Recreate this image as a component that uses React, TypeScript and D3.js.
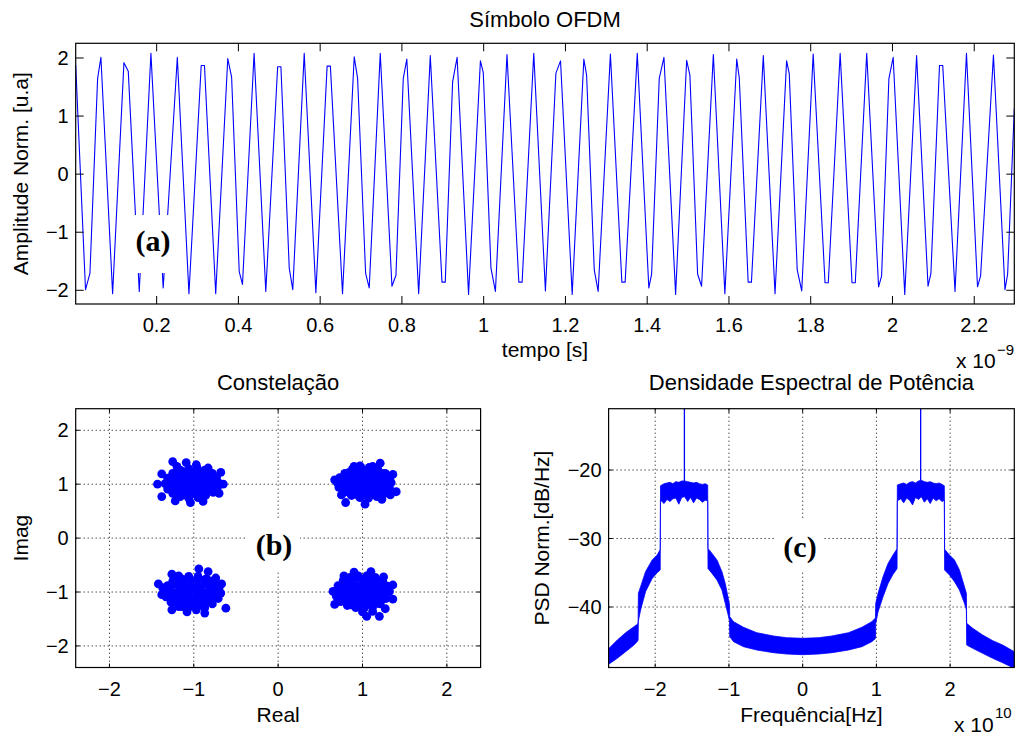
import React, { useEffect, useRef } from 'react';
import * as d3 from 'd3';

// ---- (a) OFDM symbol: [time (ns), normalized amplitude] at the turning points and shoulders
const symbolSamples: [number, number][] = [
  [0.002, 1.88], [0.026, -1.99], [0.0368, -1.71], [0.0556, 1.65], [0.0637, 2.01], [0.0923, -2.06],
  [0.12, 1.92], [0.1306, 1.77], [0.1575, -2.02], [0.186, 2.08], [0.216, -1.96], [0.2506, 2.01],
  [0.279, -2.06], [0.309, 1.87], [0.317, 1.87], [0.3445, -2.06], [0.374, 1.99], [0.3834, 1.67],
  [0.402, -1.68], [0.41, -1.9], [0.4384, 2.08], [0.467, -2.02], [0.496, 1.85], [0.504, 1.85],
  [0.5244, -1.62], [0.533, -1.99], [0.561, 2.08], [0.5895, -2.04], [0.617, 1.86], [0.625, 1.86],
  [0.6547, -2.06], [0.6833, 2.02], [0.6916, 1.65], [0.7112, -1.71], [0.72, -1.96], [0.747, 2.08],
  [0.7756, -1.93], [0.7854, -1.74], [0.8033, 1.65], [0.812, 1.98], [0.841, -2.06], [0.8694, 2.04],
  [0.898, -1.86], [0.906, -1.86], [0.924, 1.59], [0.935, 2.01], [0.963, -2.07], [0.992, 1.95],
  [0.999, 1.75], [1.0178, -1.62], [1.0287, -2.02], [1.057, 2.06], [1.086, -1.86], [1.094, -1.86],
  [1.1225, 2.08], [1.151, -2.01], [1.1767, 1.74], [1.188, 1.95], [1.2165, -2.07], [1.245, 1.98],
  [1.2518, 1.7], [1.2705, -1.65], [1.28, -2.02], [1.31, 2.07], [1.338, -1.86], [1.346, -1.86],
  [1.3757, 2.08], [1.404, -1.96], [1.4108, -1.72], [1.4295, 1.65], [1.441, 2.01], [1.4695, -2.07],
  [1.4965, 1.96], [1.5045, 1.7], [1.5233, -1.72], [1.533, -1.93], [1.5618, 2.06], [1.59, -2.06],
  [1.619, 1.98], [1.6252, 1.66], [1.647, -1.86], [1.655, -1.86], [1.684, 2.04], [1.7127, -2.06],
  [1.741, 1.95], [1.7475, 1.73], [1.767, -1.65], [1.778, -2.01], [1.806, 2.07], [1.835, -1.87],
  [1.843, -1.87], [1.872, 2.08], [1.901, -1.87], [1.909, -1.87], [1.937, 2.08], [1.966, -1.94],
  [1.9734, -1.75], [1.9913, 1.65], [2.0017, 2.01], [2.03, -2.07], [2.059, 2.04], [2.087, -1.93],
  [2.094, -1.71], [2.115, 1.87], [2.123, 1.87], [2.153, -2.02], [2.181, 2.08], [2.208, -1.94],
  [2.2156, -1.75], [2.247, 2.05], [2.2752, -1.99], [2.2817, -1.72], [2.298, 1.13],
];
const timeTicks = [0.2, 0.4, 0.6, 0.8, 1, 1.2, 1.4, 1.6, 1.8, 2, 2.2];
const ampTicks = [-2, -1, 0, 1, 2];

// ---- (b) constellation: [real, imag] (edge of each cloud + outliers)
const quadNW: [number, number][] = [
  [-0.71, 1.03], [-0.73, 1.12], [-0.78, 1.2], [-0.87, 1.26], [-0.96, 1.3], [-1.06, 1.29], [-1.16, 1.26],
  [-1.25, 1.2], [-1.31, 1.11], [-1.34, 1.01], [-1.31, 0.91], [-1.25, 0.83], [-1.16, 0.77], [-1.06, 0.74],
  [-0.95, 0.75], [-0.86, 0.79], [-0.77, 0.85], [-0.72, 0.94],
  [-1.43, 1.0], [-1.38, 1.19], [-1.38, 0.77], [-1.25, 1.42], [-1.09, 1.4], [-0.97, 1.36], [-0.68, 1.22],
  [-0.65, 1.0], [-0.89, 0.68], [-1.22, 0.69], [-1.04, 0.66], [-0.7, 0.83], [-1.2, 1.33], [-0.83, 1.3],
];
const quadNE: [number, number][] = [
  [1.34, 1.03], [1.32, 1.12], [1.27, 1.2], [1.18, 1.29], [1.08, 1.31], [0.98, 1.31], [0.88, 1.28],
  [0.79, 1.2], [0.73, 1.12], [0.7, 1.03], [0.72, 0.94], [0.78, 0.85], [0.87, 0.79], [0.97, 0.75],
  [1.07, 0.74], [1.17, 0.77], [1.26, 0.83], [1.32, 0.93],
  [1.4, 0.86], [1.21, 1.39], [0.8, 0.66], [1.03, 0.63], [1.23, 0.72], [0.67, 1.08], [1.36, 1.18],
  [0.9, 1.33], [1.12, 1.33], [1.33, 0.8], [0.75, 0.8], [0.97, 1.34],
];
const quadSW: [number, number][] = [
  [-0.68, -1.02], [-0.7, -0.92], [-0.76, -0.82], [-0.85, -0.75], [-0.95, -0.71], [-1.06, -0.71],
  [-1.16, -0.74], [-1.25, -0.8], [-1.31, -0.88], [-1.35, -0.98], [-1.33, -1.09], [-1.27, -1.19],
  [-1.18, -1.27], [-1.08, -1.32], [-0.97, -1.33], [-0.87, -1.29], [-0.78, -1.22], [-0.71, -1.12],
  [-0.94, -0.57], [-1.26, -0.67], [-1.42, -0.85], [-0.62, -1.3], [-0.87, -1.39], [-1.26, -1.33],
  [-0.83, -0.62], [-0.67, -0.85], [-1.38, -1.05], [-1.08, -1.37], [-0.74, -0.74], [-1.37, -0.92], [-1.18, -0.7],
];
const quadSE: [number, number][] = [
  [1.32, -0.99], [1.3, -0.89], [1.24, -0.8], [1.15, -0.73], [1.05, -0.7], [0.95, -0.7], [0.85, -0.73],
  [0.77, -0.79], [0.71, -0.88], [0.68, -0.98], [0.69, -1.08], [0.74, -1.18], [0.82, -1.25], [0.92, -1.29],
  [1.02, -1.3], [1.12, -1.28], [1.21, -1.22], [1.28, -1.12],
  [1.05, -1.45], [1.2, -1.45], [1.36, -0.87], [1.36, -1.13], [1.27, -1.31], [0.67, -1.23], [0.65, -0.99],
  [1.0, -1.37], [0.9, -0.63], [1.1, -0.62], [0.78, -0.7], [1.25, -0.72], [1.12, -1.36],
];
// dense cores of the four clouds
const coreNW: [number, number][] = [
  [-1.21, 1.21], [-1.13, 1.23], [-1.05, 1.22], [-0.97, 1.23], [-0.89, 1.21], [-0.82, 1.19],
  [-1.26, 1.13], [-1.18, 1.16], [-1.1, 1.13], [-1.02, 1.16], [-0.94, 1.13], [-0.86, 1.15], [-0.79, 1.11],
  [-1.29, 1.06], [-1.21, 1.07], [-1.13, 1.05], [-1.05, 1.08], [-0.98, 1.06], [-0.9, 1.08], [-0.83, 1.05], [-0.76, 1.07],
  [-1.28, 0.97], [-1.2, 0.99], [-1.12, 0.96], [-1.04, 0.98], [-0.97, 0.96], [-0.89, 0.99], [-0.82, 0.96], [-0.75, 0.98],
  [-1.24, 0.9], [-1.16, 0.88], [-1.08, 0.91], [-1.0, 0.88], [-0.93, 0.9], [-0.85, 0.88], [-0.79, 0.9],
  [-1.18, 0.82], [-1.1, 0.8], [-1.02, 0.82], [-0.94, 0.81], [-0.87, 0.83],
];
const coreNE: [number, number][] = [
  [0.84, 1.22], [0.92, 1.24], [1.0, 1.23], [1.08, 1.24], [1.16, 1.22], [1.23, 1.2],
  [0.79, 1.14], [0.87, 1.16], [0.95, 1.13], [1.03, 1.16], [1.11, 1.13], [1.19, 1.15], [1.26, 1.12],
  [0.75, 1.07], [0.83, 1.05], [0.91, 1.08], [0.99, 1.06], [1.06, 1.08], [1.14, 1.05], [1.22, 1.07], [1.29, 1.05],
  [0.76, 0.97], [0.84, 0.99], [0.92, 0.96], [1.0, 0.98], [1.07, 0.96], [1.15, 0.99], [1.23, 0.96], [1.29, 0.98],
  [0.8, 0.89], [0.88, 0.91], [0.96, 0.88], [1.04, 0.9], [1.12, 0.88], [1.2, 0.91], [1.26, 0.89],
  [0.86, 0.82], [0.94, 0.8], [1.02, 0.81], [1.1, 0.8], [1.18, 0.83],
];
const coreSW: [number, number][] = [
  [-1.2, -0.79], [-1.12, -0.77], [-1.04, -0.78], [-0.96, -0.76], [-0.88, -0.78], [-0.8, -0.8],
  [-1.27, -0.89], [-1.19, -0.87], [-1.11, -0.9], [-1.03, -0.87], [-0.95, -0.89], [-0.87, -0.86], [-0.79, -0.89], [-0.73, -0.9],
  [-1.3, -0.99], [-1.22, -1.01], [-1.14, -0.98], [-1.06, -1.0], [-0.98, -0.97], [-0.9, -1.0], [-0.82, -0.98], [-0.74, -1.01],
  [-1.29, -1.08], [-1.21, -1.1], [-1.13, -1.07], [-1.05, -1.1], [-0.97, -1.08], [-0.89, -1.11], [-0.81, -1.08], [-0.75, -1.1],
  [-1.23, -1.18], [-1.15, -1.2], [-1.07, -1.17], [-0.99, -1.2], [-0.91, -1.18], [-0.83, -1.17],
  [-1.14, -1.27], [-1.06, -1.28], [-0.98, -1.27], [-0.9, -1.25],
];
const coreSE: [number, number][] = [
  [0.83, -0.77], [0.91, -0.75], [0.99, -0.76], [1.07, -0.75], [1.15, -0.77], [1.21, -0.8],
  [0.76, -0.87], [0.84, -0.85], [0.92, -0.88], [1.0, -0.85], [1.08, -0.87], [1.16, -0.85], [1.24, -0.88],
  [0.72, -0.96], [0.8, -0.98], [0.88, -0.95], [0.96, -0.97], [1.04, -0.95], [1.12, -0.98], [1.2, -0.96], [1.28, -0.98],
  [0.72, -1.05], [0.8, -1.07], [0.88, -1.04], [0.96, -1.07], [1.04, -1.05], [1.12, -1.07], [1.2, -1.04], [1.27, -1.06],
  [0.77, -1.15], [0.85, -1.17], [0.93, -1.14], [1.01, -1.17], [1.09, -1.15], [1.17, -1.17], [1.23, -1.14],
  [0.86, -1.24], [0.94, -1.26], [1.02, -1.25], [1.1, -1.24], [1.17, -1.21],
];
const iqTicks = [-2, -1, 0, 1, 2];

// ---- (c) PSD: frequency (x 1e10 Hz), upper and lower edge of the noisy trace (dB/Hz)
const psdFreq = [
  -2.626, -2.514, -2.401, -2.288, -2.24, -2.232,
  -2.228, -2.198, -2.131, -2.041, -1.973, -1.932,
  -1.928, -1.88, -1.84, -1.8, -1.76, -1.72, -1.68, -1.64, -1.6, -1.56, -1.52, -1.48, -1.44, -1.4, -1.36, -1.32, -1.288,
  -1.284, -1.23, -1.162, -1.095, -1.05, -1.005, -0.993,
  -0.989, -0.937, -0.802, -0.622, -0.396, -0.216, 0, 0.216, 0.396, 0.622, 0.802, 0.937, 0.987,
  0.991, 1.023, 1.09, 1.158, 1.225, 1.28,
  1.284, 1.33, 1.37, 1.41, 1.45, 1.49, 1.53, 1.57, 1.61, 1.65, 1.69, 1.73, 1.77, 1.81, 1.85, 1.89, 1.921,
  1.925, 1.991, 2.059, 2.126, 2.194, 2.22,
  2.224, 2.306, 2.441, 2.577, 2.712, 2.87,
];
const psdUpper = [
  -46.03, -44.82, -43.75, -42.87, -42.5, -42.3,
  -38.0, -37.03, -34.84, -33.14, -32.41, -31.6,
  -22.3, -22.0, -21.9, -21.8, -22.0, -21.7, -21.8, -21.6, -21.6, -21.7, -21.8, -21.9, -21.8, -22.0, -22.1, -22.0, -22.2,
  -31.44, -32.17, -33.14, -34.84, -36.55, -38.98, -39.6,
  -41.41, -42.14, -42.97, -43.75, -44.23, -44.48, -44.57, -44.48, -44.23, -43.75, -42.97, -42.14, -41.6,
  -39.46, -38.0, -35.57, -33.63, -32.41, -31.5,
  -22.2, -22.0, -21.9, -22.1, -21.8, -21.7, -21.9, -21.6, -21.5, -21.7, -21.8, -21.7, -21.9, -22.0, -21.9, -22.1, -22.3,
  -31.58, -32.41, -33.14, -34.6, -37.03, -38.0,
  -42.38, -43.11, -44.09, -44.91, -45.55, -46.52,
];
const psdLower = [
  -48.32, -47.49, -46.52, -45.55, -45.0, -44.8,
  -42.0, -40.44, -37.76, -35.82, -34.99, -34.6,
  -24.4, -24.9, -24.3, -24.6, -24.2, -24.1, -25.0, -24.0, -23.9, -24.6, -24.0, -24.8, -24.1, -24.3, -24.7, -24.4, -24.5,
  -34.36, -35.09, -36.06, -37.52, -39.46, -41.41, -42.0,
  -44.33, -45.06, -45.79, -46.28, -46.67, -46.86, -46.96, -46.86, -46.67, -46.28, -45.79, -45.06, -44.6,
  -42.38, -40.68, -38.49, -36.55, -35.23, -34.4,
  -24.5, -24.2, -24.8, -24.1, -24.4, -25.1, -24.0, -24.3, -23.9, -24.7, -24.2, -24.9, -24.1, -24.5, -24.2, -24.6, -24.4,
  -34.6, -35.33, -36.3, -37.52, -39.46, -40.4,
  -45.55, -46.03, -46.76, -47.49, -48.13, -48.95,
];
const toneFreq = [-1.604, 1.6];
const toneBase = [-21.6, -21.5];
const tonePeak = [-10, -10];
const freqTicks = [-2, -1, 0, 1, 2];
const psdTicks = [-40, -30, -20];

const W = 1016;
const H = 738;
const SANS = '"Liberation Sans", Arial, Helvetica, sans-serif';
const SERIF = '"Liberation Serif", "Times New Roman", serif';
const BLUE = '#0000ff';

type Box = { x0: number; x1: number; y0: number; y1: number };
const boxTop: Box = { x0: 75.7, x1: 1014.3, y0: 43.3, y1: 304 };
const boxIQ: Box = { x0: 75.7, x1: 480.6, y0: 408.7, y1: 667.5 };
const boxPSD: Box = { x0: 608.6, x1: 1014.3, y0: 408.7, y1: 667.5 };

const fmt = (v: number) => String(v).replace('-', '\u2212');

const App = () => {
  const ref = useRef<SVGSVGElement>(null);

  useEffect(() => {
    const svg = d3.select(ref.current);
    svg.selectAll('*').remove();
    svg.append('rect').attr('width', W).attr('height', H).attr('fill', '#fff');
    const defs = svg.append('defs');

    const addClip = (id: string, b: Box) => {
      defs.append('clipPath').attr('id', id).append('rect')
        .attr('x', b.x0).attr('y', b.y0).attr('width', b.x1 - b.x0).attr('height', b.y1 - b.y0);
    };
    addClip('clip-top', boxTop);
    addClip('clip-iq', boxIQ);
    addClip('clip-psd', boxPSD);

    // dotted grid at the ticks
    const grid = (b: Box, x: any, y: any, xt: number[], yt: number[]) => {
      const g = svg.append('g').attr('stroke', '#000').attr('stroke-width', 1).attr('stroke-dasharray', '1,3');
      g.selectAll('.gx').data(xt).enter().append('line')
        .attr('x1', (d) => x(d)).attr('x2', (d) => x(d)).attr('y1', b.y0).attr('y2', b.y1);
      g.selectAll('.gy').data(yt).enter().append('line')
        .attr('x1', b.x0).attr('x2', b.x1).attr('y1', (d) => y(d)).attr('y2', (d) => y(d));
    };

    // box, inward ticks on all four sides, tick labels
    const frame = (b: Box, x: any, y: any, xt: number[], yt: number[], len: number) => {
      const g = svg.append('g');
      const t = g.append('g').attr('stroke', '#000').attr('stroke-width', 1);
      xt.forEach((v) => {
        t.append('line').attr('x1', x(v)).attr('x2', x(v)).attr('y1', b.y1).attr('y2', b.y1 - len);
        t.append('line').attr('x1', x(v)).attr('x2', x(v)).attr('y1', b.y0).attr('y2', b.y0 + len);
      });
      yt.forEach((v) => {
        t.append('line').attr('x1', b.x0).attr('x2', b.x0 + len).attr('y1', y(v)).attr('y2', y(v));
        t.append('line').attr('x1', b.x1).attr('x2', b.x1 - len).attr('y1', y(v)).attr('y2', y(v));
      });
      g.append('rect').attr('x', b.x0).attr('y', b.y0).attr('width', b.x1 - b.x0).attr('height', b.y1 - b.y0)
        .attr('fill', 'none').attr('stroke', '#000').attr('stroke-width', 1.2);
      g.selectAll('.xl').data(xt).enter().append('text')
        .attr('x', (d) => x(d)).attr('y', b.y1 + 28).attr('text-anchor', 'middle')
        .attr('font-family', SANS).attr('font-size', 20).text((d) => fmt(d));
      g.selectAll('.yl').data(yt).enter().append('text')
        .attr('x', b.x0 - 7).attr('y', (d) => y(d)).attr('dy', '0.35em').attr('text-anchor', 'end')
        .attr('font-family', SANS).attr('font-size', 20).text((d) => fmt(d));
    };

    const label = (txt: string, x: number, y: number, size: number, rotate = false) => {
      const el = svg.append('text').attr('font-family', SANS).attr('font-size', size)
        .attr('text-anchor', 'middle').text(txt);
      if (rotate) el.attr('transform', `translate(${x},${y}) rotate(-90)`);
      else el.attr('x', x).attr('y', y);
    };

    // bold panel letter on a white patch
    const tag = (txt: string, cx: number, base: number, r: [number, number, number, number]) => {
      svg.append('rect').attr('x', r[0]).attr('y', r[1]).attr('width', r[2] - r[0]).attr('height', r[3] - r[1])
        .attr('fill', '#fff');
      svg.append('text').attr('x', cx).attr('y', base).attr('text-anchor', 'middle')
        .attr('font-family', SERIF).attr('font-weight', 'bold').attr('font-size', 30).text(txt);
    };

    // ---------- (a) time signal
    const xT = d3.scaleLinear().domain([0.002, 2.298]).range([boxTop.x0, boxTop.x1]);
    const yT = d3.scaleLinear().domain([-2.236, 2.253]).range([boxTop.y1, boxTop.y0]);
    svg.append('path').datum(symbolSamples)
      .attr('clip-path', 'url(#clip-top)')
      .attr('fill', 'none').attr('stroke', BLUE).attr('stroke-width', 1.1).attr('stroke-linejoin', 'round')
      .attr('d', d3.line<[number, number]>().x((d) => xT(d[0])).y((d) => yT(d[1])));
    tag('(a)', 153, 251, [133, 215, 171, 273]);
    frame(boxTop, xT, yT, timeTicks, ampTicks, 8);
    label('Símbolo OFDM', (boxTop.x0 + boxTop.x1) / 2, 26.7, 22);
    label('tempo [s]', (boxTop.x0 + boxTop.x1) / 2, 356.7, 21);
    label('Amplitude Norm. [u.a]', 28, (boxTop.y0 + boxTop.y1) / 2, 21, true);
    svg.append('text').attr('x', 956).attr('y', 368.3).attr('font-family', SANS).attr('font-size', 21).text('x 10');
    svg.append('text').attr('x', 997).attr('y', 355).attr('font-family', SANS).attr('font-size', 15).text('\u22129');

    // ---------- (b) constellation
    const xC = d3.scaleLinear().domain([-2.4, 2.4]).range([boxIQ.x0, boxIQ.x1]);
    const yC = d3.scaleLinear().domain([-2.4, 2.4]).range([boxIQ.y1, boxIQ.y0]);
    grid(boxIQ, xC, yC, iqTicks, iqTicks);
    const pts = [...quadNW, ...quadNE, ...quadSW, ...quadSE, ...coreNW, ...coreNE, ...coreSW, ...coreSE];
    svg.append('g').attr('clip-path', 'url(#clip-iq)')
      .selectAll('circle').data(pts).enter().append('circle')
      .attr('cx', (d) => xC(d[0])).attr('cy', (d) => yC(d[1])).attr('r', 4.4).attr('fill', BLUE);
    tag('(b)', 274, 555, [247, 520, 300, 572]);
    frame(boxIQ, xC, yC, iqTicks, iqTicks, 4);
    label('Constelação', (boxIQ.x0 + boxIQ.x1) / 2, 390, 22);
    label('Real', (boxIQ.x0 + boxIQ.x1) / 2, 721.5, 21);
    label('Imag', 28, (boxIQ.y0 + boxIQ.y1) / 2, 21, true);

    // ---------- (c) PSD
    const xP = d3.scaleLinear().domain([-2.632, 2.87]).range([boxPSD.x0, boxPSD.x1]);
    const yP = d3.scaleLinear().domain([-48.83, -11.05]).range([boxPSD.y1, boxPSD.y0]);
    grid(boxPSD, xP, yP, freqTicks, psdTicks);
    const gp = svg.append('g').attr('clip-path', 'url(#clip-psd)');
    const idx = d3.range(psdFreq.length);
    gp.append('path').datum(idx)
      .attr('fill', BLUE).attr('stroke', BLUE).attr('stroke-width', 0.8)
      .attr('d', d3.area<number>().x((i) => xP(psdFreq[i])).y0((i) => yP(psdLower[i])).y1((i) => yP(psdUpper[i])));
    gp.selectAll('.tone').data(toneFreq).enter().append('line')
      .attr('x1', (d) => xP(d)).attr('x2', (d) => xP(d))
      .attr('y1', (d, i) => yP(toneBase[i])).attr('y2', (d, i) => yP(tonePeak[i]))
      .attr('stroke', BLUE).attr('stroke-width', 1.3);
    tag('(c)', 800, 556.5, [776, 520, 824, 572]);
    frame(boxPSD, xP, yP, freqTicks, psdTicks, 4);
    label('Densidade Espectral de Potência', (boxPSD.x0 + boxPSD.x1) / 2, 390, 22);
    label('Frequência[Hz]', (boxPSD.x0 + boxPSD.x1) / 2, 721.5, 21);
    label('PSD Norm.[dB/Hz]', 548.5, (boxPSD.y0 + boxPSD.y1) / 2, 21, true);
    svg.append('text').attr('x', 954).attr('y', 731.5).attr('font-family', SANS).attr('font-size', 21).text('x 10');
    svg.append('text').attr('x', 995).attr('y', 718).attr('font-family', SANS).attr('font-size', 15).text('10');
  }, []);

  return (
    <svg ref={ref} width={W} height={H} style={{ position: 'absolute', left: 0, top: 0, display: 'block' }} />
  );
};

export default App;
